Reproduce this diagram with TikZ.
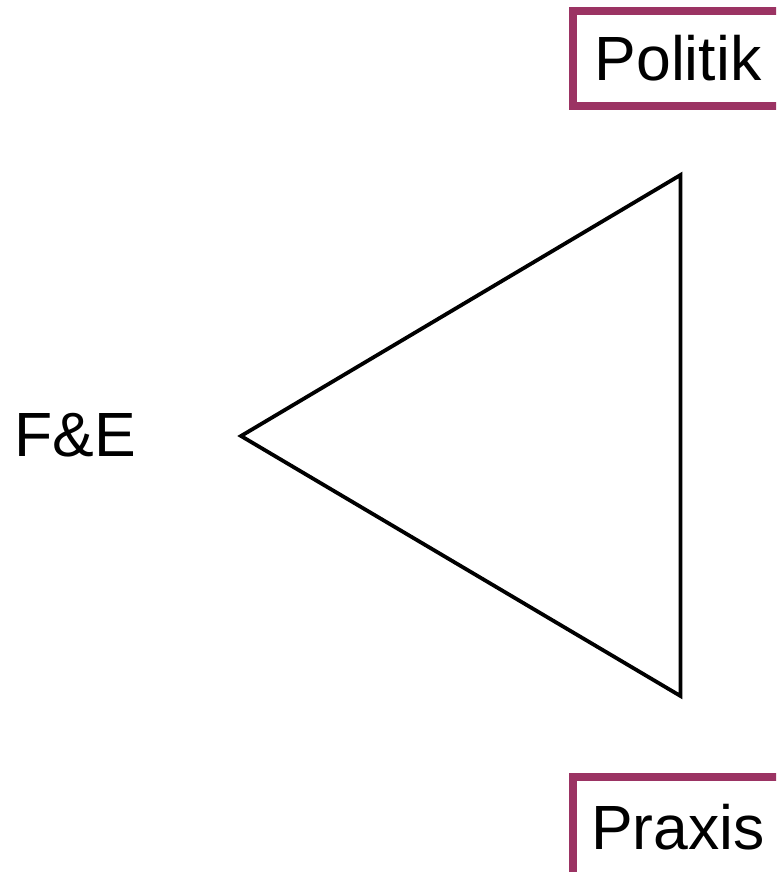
\documentclass[tikz,border=0pt]{standalone}
\usepackage{fontspec}
\setmainfont{Liberation Sans}
\usepackage{xcolor}
\definecolor{plum}{HTML}{9B3363}
\definecolor{ink}{HTML}{000000}
\tikzset{
  tagbox/.style={draw=plum,fill=white,line width=8pt,minimum width=210pt,
                 inner sep=0pt,font=\fontsize{62.5}{72}\selectfont},
  plainlabel/.style={inner sep=0pt,font=\fontsize{62.5}{72}\selectfont},
  edge/.style={draw=ink,line width=3.8pt}
}
\begin{document}
\begin{tikzpicture}[x=1pt,y=1pt]
    \path[use as bounding box] (0,0) rectangle (776,872);
    \clip (0,0) rectangle (776,872);
    \coordinate (apex) at (241,436);
    \coordinate (upper) at (680.5,697);
    \coordinate (lower) at (680.5,176);
    \draw[edge] (apex) -- (upper) -- (lower) -- cycle;

    \node[plainlabel] (fe) at (75,437) {F\&E};
    \node[tagbox,minimum height=95pt] (politik) at (678,813.5) {Politik};
    \node[tagbox,minimum height=100pt] (praxis) at (678,45) {Praxis};
\end{tikzpicture}
\end{document}
